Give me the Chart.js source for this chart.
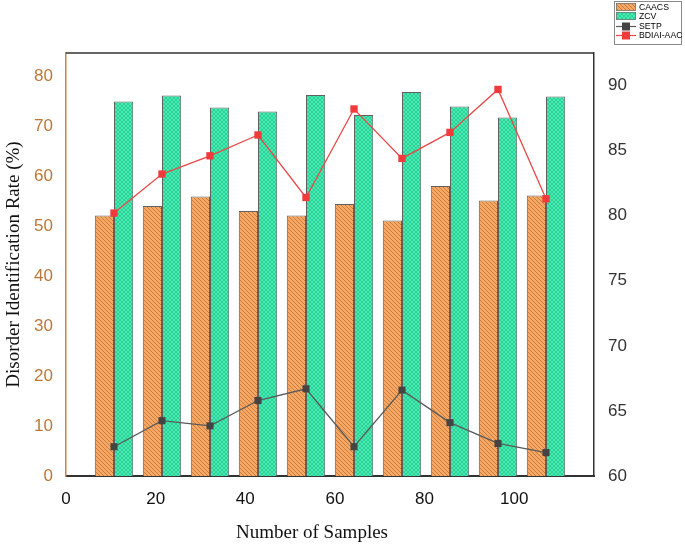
<!DOCTYPE html>
<html><head><meta charset="utf-8">
<script src="https://cdn.jsdelivr.net/npm/chart.js@4.4.1/dist/chart.umd.min.js"></script>
<style>html,body{margin:0;padding:0;background:#fff}</style>
</head><body>
<canvas id="c" width="685" height="547"></canvas>
<script>
// ---- data ----
const samples = [10, 20, 30, 40, 50, 60, 70, 80, 90, 100];
const caacs = [52.1, 54.0, 55.9, 53.0, 52.1, 54.4, 51.1, 58.0, 55.1, 56.1];
const zcv = [74.9, 76.1, 73.7, 72.9, 76.2, 72.2, 76.8, 73.9, 71.7, 75.9];
const setp = [62.25, 64.25, 63.85, 65.8, 66.7, 62.25, 66.6, 64.1, 62.5, 61.8];
const bdiai = [80.2, 83.2, 84.6, 86.2, 81.4, 88.2, 84.4, 86.4, 89.7, 81.3];
const leftTicks = [0, 10, 20, 30, 40, 50, 60, 70, 80];
const rightTicks = [60, 65, 70, 75, 80, 85, 90];
const xTicks = [0, 20, 40, 60, 80, 100];
const seriesNames = ['CAACS', 'ZCV', 'SETP', 'BDIAI-AAC'];

// ---- patterns ----
function hatchPattern() {
  const c = document.createElement('canvas'); c.width = 4; c.height = 4;
  const g = c.getContext('2d');
  g.fillStyle = '#F8A862'; g.fillRect(0, 0, 4, 4);
  g.strokeStyle = 'rgba(140,80,30,0.6)'; g.lineWidth = 0.8;
  g.beginPath();
  g.moveTo(-1, -1); g.lineTo(5, 5);
  g.moveTo(-1, 3); g.lineTo(1, 5);
  g.moveTo(3, -1); g.lineTo(5, 1);
  g.stroke();
  return document.getElementById('c').getContext('2d').createPattern(c, 'repeat');
}
function crossPattern() {
  const c = document.createElement('canvas'); c.width = 4; c.height = 4;
  const g = c.getContext('2d');
  g.fillStyle = '#40F0B2'; g.fillRect(0, 0, 4, 4);
  g.strokeStyle = 'rgba(30,120,90,0.5)'; g.lineWidth = 0.6;
  g.beginPath();
  g.moveTo(-1, -1); g.lineTo(5, 5);
  g.moveTo(-1, 3); g.lineTo(1, 5);
  g.moveTo(3, -1); g.lineTo(5, 1);
  g.moveTo(5, -1); g.lineTo(-1, 5);
  g.moveTo(1, -1); g.lineTo(-1, 1);
  g.moveTo(5, 3); g.lineTo(3, 5);
  g.stroke();
  return document.getElementById('c').getContext('2d').createPattern(c, 'repeat');
}
const orangeFill = hatchPattern();
const greenFill = crossPattern();

const pts = arr => samples.map((s, i) => ({ x: s, y: arr[i] }));

const extras = {
  id: 'extras',
  beforeDatasetsDraw(chart) {
    const { ctx, chartArea: a } = chart;
    ctx.save();
    ctx.strokeStyle = '#333'; ctx.lineWidth = 1.5;
    ctx.beginPath(); ctx.moveTo(a.left, a.top); ctx.lineTo(a.right, a.top); ctx.stroke();
    ctx.restore();
  },
  afterDraw(chart) {
    const { ctx, chartArea: a } = chart;
    ctx.save();
    ctx.fillStyle = '#111';
    ctx.font = '19px "Liberation Serif"';
    ctx.textAlign = 'center'; ctx.textBaseline = 'middle';
    ctx.fillText('Number of Samples', 312, 533);
    ctx.translate(14, (a.top + a.bottom) / 2);
    ctx.rotate(-Math.PI / 2);
    ctx.fillText('Disorder Identification Rate (%)', 0, 0);
    ctx.restore();

    // legend
    ctx.save();
    ctx.fillStyle = '#fff';
    ctx.fillRect(614.5, 1.5, 67, 43);
    ctx.strokeStyle = '#8a8a8a'; ctx.lineWidth = 1;
    ctx.strokeRect(614.5, 1.5, 67, 43);
    const rows = [7, 16, 26, 35];
    chart.data.datasets.forEach((ds, i) => {
      const y = rows[i];
      if (ds.type === 'bar') {
        ctx.fillStyle = ds.backgroundColor;
        ctx.fillRect(616, y - 4, 20, 8);
        ctx.strokeStyle = '#777'; ctx.lineWidth = 0.8;
        ctx.strokeRect(616.5, y - 3.5, 19, 7);
      } else {
        ctx.strokeStyle = ds.borderColor; ctx.lineWidth = 1.2;
        ctx.beginPath(); ctx.moveTo(616, y + 0.5); ctx.lineTo(636, y + 0.5); ctx.stroke();
        ctx.fillStyle = ds.pointBackgroundColor;
        ctx.fillRect(622, y - 3.5, 8, 8);
      }
      ctx.fillStyle = '#000';
      ctx.font = '8.7px "Liberation Sans"';
      ctx.textAlign = 'left'; ctx.textBaseline = 'middle';
      ctx.fillText(ds.label, 639, y + 0.5);
    });
    ctx.restore();
  }
};

new Chart(document.getElementById('c'), {
  data: {
    datasets: [
      { type: 'bar', label: seriesNames[0], data: pts(caacs), xAxisID: 'x', yAxisID: 'y',
        backgroundColor: orangeFill, borderColor: '#606060', borderWidth: 1,
        categoryPercentage: 0.8, barPercentage: 1.0, order: 2 },
      { type: 'bar', label: seriesNames[1], data: pts(zcv), xAxisID: 'x', yAxisID: 'y',
        backgroundColor: greenFill, borderColor: '#606060', borderWidth: 1,
        categoryPercentage: 0.8, barPercentage: 1.0, order: 2 },
      { type: 'line', label: seriesNames[2], data: pts(setp), xAxisID: 'x', yAxisID: 'y2',
        borderColor: '#5a5a5a', borderWidth: 1.3, pointStyle: 'rect', pointRadius: 5,
        pointBackgroundColor: '#444', pointBorderColor: '#444', pointBorderWidth: 0, order: 1 },
      { type: 'line', label: seriesNames[3], data: pts(bdiai), xAxisID: 'x', yAxisID: 'y2',
        borderColor: '#E84A4A', borderWidth: 1.3, pointStyle: 'rect', pointRadius: 5.2,
        pointBackgroundColor: '#F23A3A', pointBorderColor: '#F23A3A', pointBorderWidth: 0, order: 1 }
    ]
  },
  options: {
    responsive: false,
    animation: false,
    events: [],
    layout: { padding: { left: 0, right: 0, top: 53, bottom: 0 } },
    plugins: { legend: { display: false }, tooltip: { enabled: false } },
    scales: {
      x: { type: 'linear', min: 0, max: 110, display: false, offset: false,
           grid: { display: false } },
      x2: { type: 'linear', position: 'bottom', min: 0, max: 117.8,
            grid: { display: false, drawTicks: false },
            border: { display: true, color: '#333', width: 2 },
            afterBuildTicks: s => { s.ticks = xTicks.map(v => ({ value: v })); },
            afterFit: s => { s.height = 71; },
            ticks: { color: '#111', font: { family: 'Liberation Sans', size: 17 }, padding: 13, maxRotation: 0, autoSkip: false } },
      y: { type: 'linear', position: 'left', min: 0, max: 84.6,
           grid: { display: false, drawTicks: false },
           border: { display: true, color: '#C8844A', width: 1.5 },
           afterBuildTicks: s => { s.ticks = leftTicks.map(v => ({ value: v })); },
           afterFit: s => { s.width = 66; },
           ticks: { color: '#BC7838', font: { family: 'Liberation Sans', size: 17 }, padding: 13 } },
      y2: { type: 'linear', position: 'right', min: 60, max: 92.5,
            grid: { display: false, drawTicks: false },
            border: { display: true, color: '#333', width: 1.5 },
            afterBuildTicks: s => { s.ticks = rightTicks.map(v => ({ value: v })); },
            afterFit: s => { s.width = 91; },
            ticks: { color: '#333', font: { family: 'Liberation Sans', size: 17 }, padding: 14 } }
    }
  },
  plugins: [extras]
});
</script>
</body></html>
